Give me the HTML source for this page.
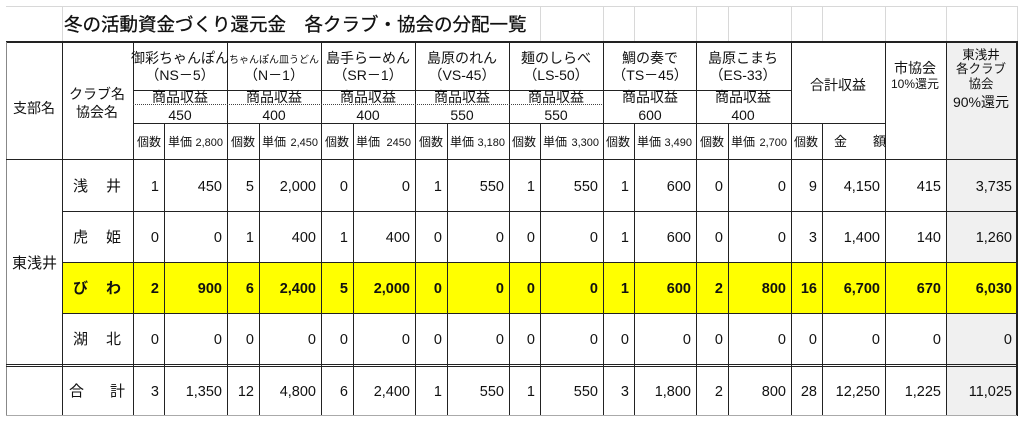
<!DOCTYPE html>
<html><head><meta charset="utf-8"><style>
html,body{margin:0;padding:0;background:#fff;}
svg{display:block;font-family:"Liberation Sans","Noto Sans CJK JP",sans-serif;}
.n{font-size:14.5px;text-anchor:end;fill:#111;}
.h{font-size:14px;text-anchor:middle;fill:#111;}
.s{font-size:12px;fill:#111;}
</style></head><body>
<svg width="1024" height="422" viewBox="0 0 1024 422">
<rect x="946" y="42" width="71" height="374" fill="#f0f0f0"/>
<rect x="62" y="262" width="955" height="51" fill="#ffff00"/>
<g stroke="#d8d8d8" stroke-width="1">
<line x1="6" y1="6.5" x2="1017" y2="6.5"/>
<line x1="62.5" y1="6" x2="62.5" y2="42"/>
<line x1="540.5" y1="6" x2="540.5" y2="42"/><line x1="603.5" y1="6" x2="603.5" y2="42"/>
<line x1="634.5" y1="6" x2="634.5" y2="42"/><line x1="696.5" y1="6" x2="696.5" y2="42"/>
<line x1="728.5" y1="6" x2="728.5" y2="42"/><line x1="791.5" y1="6" x2="791.5" y2="42"/>
<line x1="822.5" y1="6" x2="822.5" y2="42"/><line x1="885.5" y1="6" x2="885.5" y2="42"/>
<line x1="946.5" y1="6" x2="946.5" y2="42"/><line x1="1017.5" y1="6" x2="1017.5" y2="42"/>
</g>
<text x="64" y="31" font-size="18.5" fill="#111" stroke="#111" stroke-width="0.3">冬の活動資金づくり還元金　各クラブ・協会の分配一覧</text>
<g stroke="#222" stroke-width="1">
<line x1="6" y1="42" x2="1018" y2="42" stroke-width="2"/>
<line x1="6.5" y1="42" x2="6.5" y2="416" stroke="#888"/>
<line x1="62.5" y1="42" x2="62.5" y2="416"/>
<line x1="1017" y1="42" x2="1017" y2="416" stroke-width="2"/>
<line x1="133.5" y1="42" x2="133.5" y2="416"/><line x1="227.5" y1="42" x2="227.5" y2="416"/>
<line x1="321.5" y1="42" x2="321.5" y2="416"/><line x1="415.5" y1="42" x2="415.5" y2="416"/>
<line x1="509.5" y1="42" x2="509.5" y2="416"/><line x1="603.5" y1="42" x2="603.5" y2="416"/>
<line x1="696.5" y1="42" x2="696.5" y2="416"/><line x1="791.5" y1="42" x2="791.5" y2="416"/>
<line x1="885.5" y1="42" x2="885.5" y2="416"/><line x1="946.5" y1="42" x2="946.5" y2="416"/>
<line x1="164.5" y1="123" x2="164.5" y2="416"/><line x1="259.5" y1="123" x2="259.5" y2="416"/>
<line x1="353.5" y1="123" x2="353.5" y2="416"/><line x1="447.5" y1="123" x2="447.5" y2="416"/>
<line x1="540.5" y1="123" x2="540.5" y2="416"/><line x1="634.5" y1="123" x2="634.5" y2="416"/>
<line x1="728.5" y1="123" x2="728.5" y2="416"/><line x1="822.5" y1="123" x2="822.5" y2="416"/>
<line x1="133" y1="90.5" x2="791" y2="90.5"/>
<line x1="133" y1="123.5" x2="885" y2="123.5"/>
<line x1="6" y1="159.5" x2="1017" y2="159.5"/>
<line x1="62" y1="211.5" x2="1017" y2="211.5"/>
<line x1="62" y1="262.5" x2="1017" y2="262.5"/>
<line x1="62" y1="313.5" x2="1017" y2="313.5"/>
<line x1="6" y1="364.5" x2="1017" y2="364.5"/>
<line x1="6" y1="366.5" x2="1017" y2="366.5"/>
<line x1="6" y1="415.5" x2="1017" y2="415.5" stroke="#aaa"/>
</g>
<line x1="133" y1="104.5" x2="603" y2="104.5" stroke="#444" stroke-dasharray="1,1"/>
<text x="34" y="113" class="h" font-size="15">支部名</text>
<text x="97" y="99" class="h" font-size="15">クラブ名</text>
<text x="97" y="117" class="h" font-size="15">協会名</text>
<g class="h">
<text x="180" y="63">御彩ちゃんぽん</text><text x="180" y="80">（NS－5）</text>
<text x="274" y="63" font-size="10">ちゃんぽん皿うどん</text><text x="274" y="80">（N－1）</text>
<text x="368" y="63">島手らーめん</text><text x="368" y="80">（SR－1）</text>
<text x="462" y="63">島原のれん</text><text x="462" y="80">（VS-45）</text>
<text x="556" y="63">麺のしらべ</text><text x="556" y="80">（LS-50）</text>
<text x="650" y="63">鯛の奏で</text><text x="650" y="80">（TS－45）</text>
<text x="743" y="63">島原こまち</text><text x="743" y="80">（ES-33）</text>
<text x="838" y="90">合計収益</text>
<text x="915" y="73">市協会</text><text x="915" y="88" font-size="12">10%還元</text>
<text x="981" y="59" font-size="12.5">東浅井</text><text x="981" y="73" font-size="12.5">各クラブ</text>
<text x="981" y="88" font-size="12.5">協会</text><text x="981" y="107">90%還元</text>
</g>
<g class="h">
<text x="180" y="102">商品収益</text><text x="274" y="102">商品収益</text><text x="368" y="102">商品収益</text>
<text x="462" y="102">商品収益</text><text x="556" y="102">商品収益</text><text x="650" y="102">商品収益</text><text x="743" y="102">商品収益</text>
</g>
<g class="h" font-size="15">
<text x="180" y="120">450</text><text x="274" y="120">400</text><text x="368" y="120">400</text>
<text x="462" y="120">550</text><text x="556" y="120">550</text><text x="650" y="120">600</text><text x="743" y="120">400</text>
</g>
<g class="s">
<text x="137" y="146">個数</text><text x="168" y="146">単価</text><text x="223" y="146" text-anchor="end" font-size="11">2,800</text>
<text x="231" y="146">個数</text><text x="262" y="146">単価</text><text x="318" y="146" text-anchor="end" font-size="11">2,450</text>
<text x="325" y="146">個数</text><text x="356" y="146">単価</text><text x="411" y="146" text-anchor="end" font-size="11">2450</text>
<text x="419" y="146">個数</text><text x="450" y="146">単価</text><text x="505" y="146" text-anchor="end" font-size="11">3,180</text>
<text x="512" y="146">個数</text><text x="543" y="146">単価</text><text x="599" y="146" text-anchor="end" font-size="11">3,300</text>
<text x="606" y="146">個数</text><text x="637" y="146">単価</text><text x="692" y="146" text-anchor="end" font-size="11">3,490</text>
<text x="700" y="146">個数</text><text x="731" y="146">単価</text><text x="787" y="146" text-anchor="end" font-size="11">2,700</text>
<text x="794" y="146">個数</text><text x="834" y="146" font-size="13">金　　額</text>
</g>
<text x="12" y="268" font-size="15" fill="#111">東浅井</text>
<g font-size="15" fill="#111">
<text x="73" y="191">浅</text><text x="106" y="191">井</text>
<text x="73" y="242">虎</text><text x="106" y="242">姫</text>
<text x="73" y="293" font-weight="bold">び</text><text x="106" y="293" font-weight="bold">わ</text>
<text x="73" y="344">湖</text><text x="106" y="344">北</text>
<text x="69" y="396">合</text><text x="110" y="396">計</text>
</g>
<g class="n">
<g transform="translate(0,191)">
<text x="159">1</text><text x="222">450</text><text x="254">5</text><text x="316">2,000</text><text x="348">0</text><text x="410">0</text><text x="442">1</text><text x="504">550</text><text x="535">1</text><text x="598">550</text><text x="629">1</text><text x="691">600</text><text x="723">0</text><text x="786">0</text><text x="817">9</text><text x="880">4,150</text><text x="941">415</text><text x="1012">3,735</text>
</g>
<g transform="translate(0,242)">
<text x="159">0</text><text x="222">0</text><text x="254">1</text><text x="316">400</text><text x="348">1</text><text x="410">400</text><text x="442">0</text><text x="504">0</text><text x="535">0</text><text x="598">0</text><text x="629">1</text><text x="691">600</text><text x="723">0</text><text x="786">0</text><text x="817">3</text><text x="880">1,400</text><text x="941">140</text><text x="1012">1,260</text>
</g>
<g transform="translate(0,293)" font-weight="bold">
<text x="159">2</text><text x="222">900</text><text x="254">6</text><text x="316">2,400</text><text x="348">5</text><text x="410">2,000</text><text x="442">0</text><text x="504">0</text><text x="535">0</text><text x="598">0</text><text x="629">1</text><text x="691">600</text><text x="723">2</text><text x="786">800</text><text x="817">16</text><text x="880">6,700</text><text x="941">670</text><text x="1012">6,030</text>
</g>
<g transform="translate(0,344)">
<text x="159">0</text><text x="222">0</text><text x="254">0</text><text x="316">0</text><text x="348">0</text><text x="410">0</text><text x="442">0</text><text x="504">0</text><text x="535">0</text><text x="598">0</text><text x="629">0</text><text x="691">0</text><text x="723">0</text><text x="786">0</text><text x="817">0</text><text x="880">0</text><text x="941">0</text><text x="1012">0</text>
</g>
<g transform="translate(0,396)">
<text x="159">3</text><text x="222">1,350</text><text x="254">12</text><text x="316">4,800</text><text x="348">6</text><text x="410">2,400</text><text x="442">1</text><text x="504">550</text><text x="535">1</text><text x="598">550</text><text x="629">3</text><text x="691">1,800</text><text x="723">2</text><text x="786">800</text><text x="817">28</text><text x="880">12,250</text><text x="941">1,225</text><text x="1012">11,025</text>
</g>
</g>
</svg>
</body></html>
